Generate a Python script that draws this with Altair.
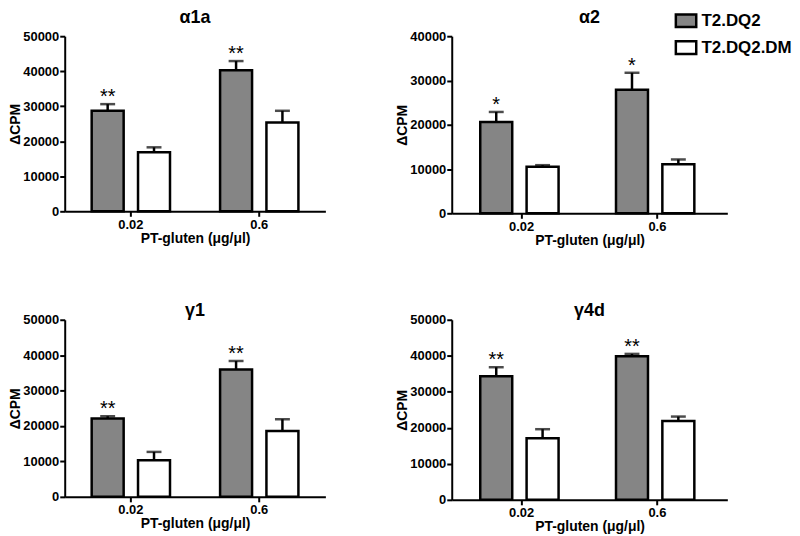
import altair as alt
import pandas as pd

# ---------------- data ----------------
conc = ["0.02", "0.6"]
groups = ["T2.DQ2", "T2.DQ2.DM"]
titles = ["α1a", "α2", "γ1", "γ4d"]
ymax = [50000, 40000, 50000, 50000]

dq2_mean = [[28700, 40250], [20640, 27910], [22100, 35930], [34340, 39860]]
dq2_sem = [[1900, 2650], [2250, 3830], [660, 2430], [2480, 660]]
dm_mean = [[16850, 25370], [10510, 11100], [10350, 18610], [17130, 21900]]
dm_sem = [[1420, 3330], [360, 1060], [2340, 3300], [2480, 1220]]
dq2_stars = [["**", "**"], ["*", "*"], ["**", "**"], ["**", "**"]]

FONT = "Liberation Sans"
DARK = "#858585"

LEGEND = alt.Legend(
    title=None, orient="none", legendX=613, legendY=-27, padding=0,
    symbolType="M-1,-0.62H1V0.62H-1Z", symbolSize=420,
    symbolStrokeColor="black", symbolStrokeWidth=2.5,
    labelFont=FONT, labelFontSize=17, labelFontWeight="bold",
    labelColor="black", labelOffset=4, rowPadding=4,
)


def make_df(i):
    rows = []
    for j, c in enumerate(conc):
        rows.append(dict(conc=c, group=groups[0], mean=dq2_mean[i][j],
                         top=dq2_mean[i][j] + dq2_sem[i][j], star=dq2_stars[i][j]))
        rows.append(dict(conc=c, group=groups[1], mean=dm_mean[i][j],
                         top=dm_mean[i][j] + dm_sem[i][j], star=""))
    return pd.DataFrame(rows)


def panel(i, width, height, title_offset):
    df = make_df(i)
    yvals = list(range(0, ymax[i] + 1, 10000))
    yaxis = alt.Axis(values=yvals, title="ΔCPM", format="d", labelOverlap=False)
    yscale = alt.Scale(domain=[0, ymax[i]], nice=False)
    base = alt.Chart(df).encode(
        x=alt.X("conc:N", sort=conc,
                scale=alt.Scale(paddingInner=0.39, paddingOuter=0.21),
                axis=alt.Axis(title="PT-gluten (μg/μl)", labelAngle=0)),
        xOffset=alt.XOffset("group:N", sort=groups,
                            scale=alt.Scale(paddingInner=0.31, paddingOuter=0)),
    )
    bars = base.mark_bar(stroke="black", strokeWidth=2.5).encode(
        y=alt.Y("mean:Q", scale=yscale, axis=yaxis),
        fill=alt.Fill("group:N", sort=groups,
                      scale=alt.Scale(domain=groups, range=[DARK, "white"]),
                      legend=LEGEND),
    )
    rule = base.mark_rule(strokeWidth=2.5, color="black").encode(
        y=alt.Y("mean:Q", scale=yscale, axis=yaxis), y2="top:Q")
    cap = base.mark_tick(thickness=2.5, size=15, color="black").encode(
        y=alt.Y("top:Q", scale=yscale, axis=yaxis))
    stars = base.mark_text(font=FONT, fontSize=20, dy=-1, baseline="alphabetic",
                           color="black").encode(
        y=alt.Y("top:Q", scale=yscale, axis=yaxis), text="star:N")
    return alt.layer(bars, rule, cap, stars).properties(
        width=width, height=height,
        title=alt.TitleParams(titles[i], fontSize=18, font=FONT,
                              fontWeight="bold", anchor="middle",
                              offset=title_offset),
    )


top = alt.hconcat(panel(0, 262, 176, 3), panel(1, 277, 178, 3), spacing=70)
bottom = alt.hconcat(panel(2, 262, 178, -6), panel(3, 277, 181, -6), spacing=70)

chart = alt.vconcat(top, bottom, spacing=55).properties(padding=0).configure_view(
    stroke=None
).configure_axis(
    grid=False, domainColor="black", domainWidth=2, tickColor="black",
    tickWidth=2, tickSize=5, labelFont=FONT, labelFontSize=13,
    labelFontWeight="bold", labelColor="black", titleFont=FONT,
    titleFontSize=14, titleFontWeight="bold", titleColor="black",
    labelPadding=1,
).configure_axisY(titlePadding=0, labelOverlap=False).configure_axisX(
    titlePadding=0, labelPadding=2)

chart.save("out.html", embed_options={"renderer": "svg", "actions": False})
